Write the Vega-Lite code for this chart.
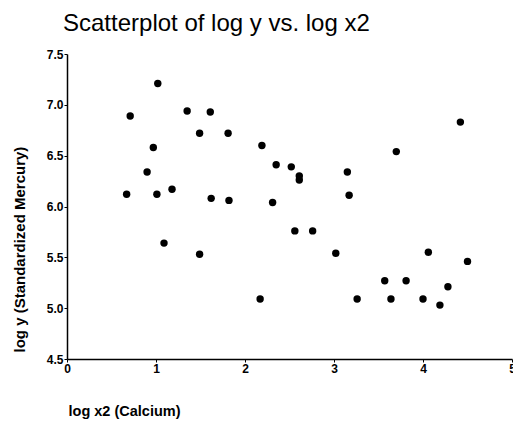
{
  "$schema": "https://vega.github.io/schema/vega-lite/v6.json",
  "autosize": {"type": "none"},
  "width": 445,
  "height": 305,
  "padding": {"left": 67, "top": 54, "right": 1, "bottom": 64},
  "background": "white",
  "title": {
    "text": "Scatterplot of log y vs. log x2",
    "anchor": "start",
    "frame": "group",
    "font": "Liberation Sans",
    "fontSize": 24,
    "fontWeight": "normal",
    "color": "black",
    "dx": -4,
    "offset": 12
  },
  "data": {
    "values": [
      {"x": 0.71, "y": 6.89}, {"x": 1.02, "y": 7.21}, {"x": 1.35, "y": 6.94},
      {"x": 1.61, "y": 6.93}, {"x": 1.49, "y": 6.72}, {"x": 1.81, "y": 6.72},
      {"x": 0.97, "y": 6.58}, {"x": 0.90, "y": 6.34}, {"x": 0.67, "y": 6.12},
      {"x": 1.01, "y": 6.12}, {"x": 1.18, "y": 6.17}, {"x": 1.62, "y": 6.08},
      {"x": 1.82, "y": 6.06}, {"x": 1.09, "y": 5.64}, {"x": 1.49, "y": 5.53},
      {"x": 2.17, "y": 5.09}, {"x": 2.19, "y": 6.60}, {"x": 2.35, "y": 6.41},
      {"x": 2.52, "y": 6.39}, {"x": 2.61, "y": 6.30}, {"x": 2.61, "y": 6.26},
      {"x": 2.31, "y": 6.04}, {"x": 2.56, "y": 5.76}, {"x": 2.76, "y": 5.76},
      {"x": 3.15, "y": 6.34}, {"x": 3.17, "y": 6.11}, {"x": 3.70, "y": 6.54},
      {"x": 4.42, "y": 6.83}, {"x": 3.02, "y": 5.54}, {"x": 3.26, "y": 5.09},
      {"x": 3.57, "y": 5.27}, {"x": 3.64, "y": 5.09}, {"x": 3.81, "y": 5.27},
      {"x": 4.00, "y": 5.09}, {"x": 4.06, "y": 5.55}, {"x": 4.19, "y": 5.03},
      {"x": 4.28, "y": 5.21}, {"x": 4.50, "y": 5.46}
    ]
  },
  "mark": {"type": "circle", "size": 55, "color": "black", "opacity": 1},
  "encoding": {
    "x": {
      "field": "x",
      "type": "quantitative",
      "scale": {"domain": [0, 5], "nice": false, "zero": false},
      "axis": {
        "title": "log x2 (Calcium)",
        "values": [0, 1, 2, 3, 4, 5],
        "format": "d",
        "grid": false,
        "domainColor": "black",
        "domainWidth": 1.5,
        "tickColor": "black",
        "tickSize": 3,
        "labelFont": "Liberation Sans",
        "labelFontWeight": "bold",
        "labelFontSize": 12,
        "labelColor": "black",
        "labelPadding": 1,
        "labelFlush": false,
        "titleFont": "Liberation Sans",
        "titleFontWeight": "bold",
        "titleFontSize": 14.5,
        "titleColor": "black",
        "titleAnchor": "start",
        "titleAlign": "left",
        "titleBaseline": "middle",
        "titleX": 1,
        "titleY": 52
      }
    },
    "y": {
      "field": "y",
      "type": "quantitative",
      "scale": {"domain": [4.5, 7.5], "nice": false, "zero": false},
      "axis": {
        "title": "log y (Standardized Mercury)",
        "values": [4.5, 5.0, 5.5, 6.0, 6.5, 7.0, 7.5],
        "format": ".1f",
        "grid": false,
        "domainColor": "black",
        "domainWidth": 1.5,
        "tickColor": "black",
        "tickSize": 3,
        "labelFont": "Liberation Sans",
        "labelFontWeight": "bold",
        "labelFontSize": 12,
        "labelColor": "black",
        "labelPadding": 1,
        "labelFlush": false,
        "titleFont": "Liberation Sans",
        "titleFontWeight": "bold",
        "titleFontSize": 15,
        "titleColor": "black",
        "titleAngle": 270,
        "titleAnchor": "start",
        "titleAlign": "left",
        "titleBaseline": "middle",
        "titleX": -48,
        "titleY": 298
      }
    }
  },
  "config": {"view": {"stroke": null}}
}
